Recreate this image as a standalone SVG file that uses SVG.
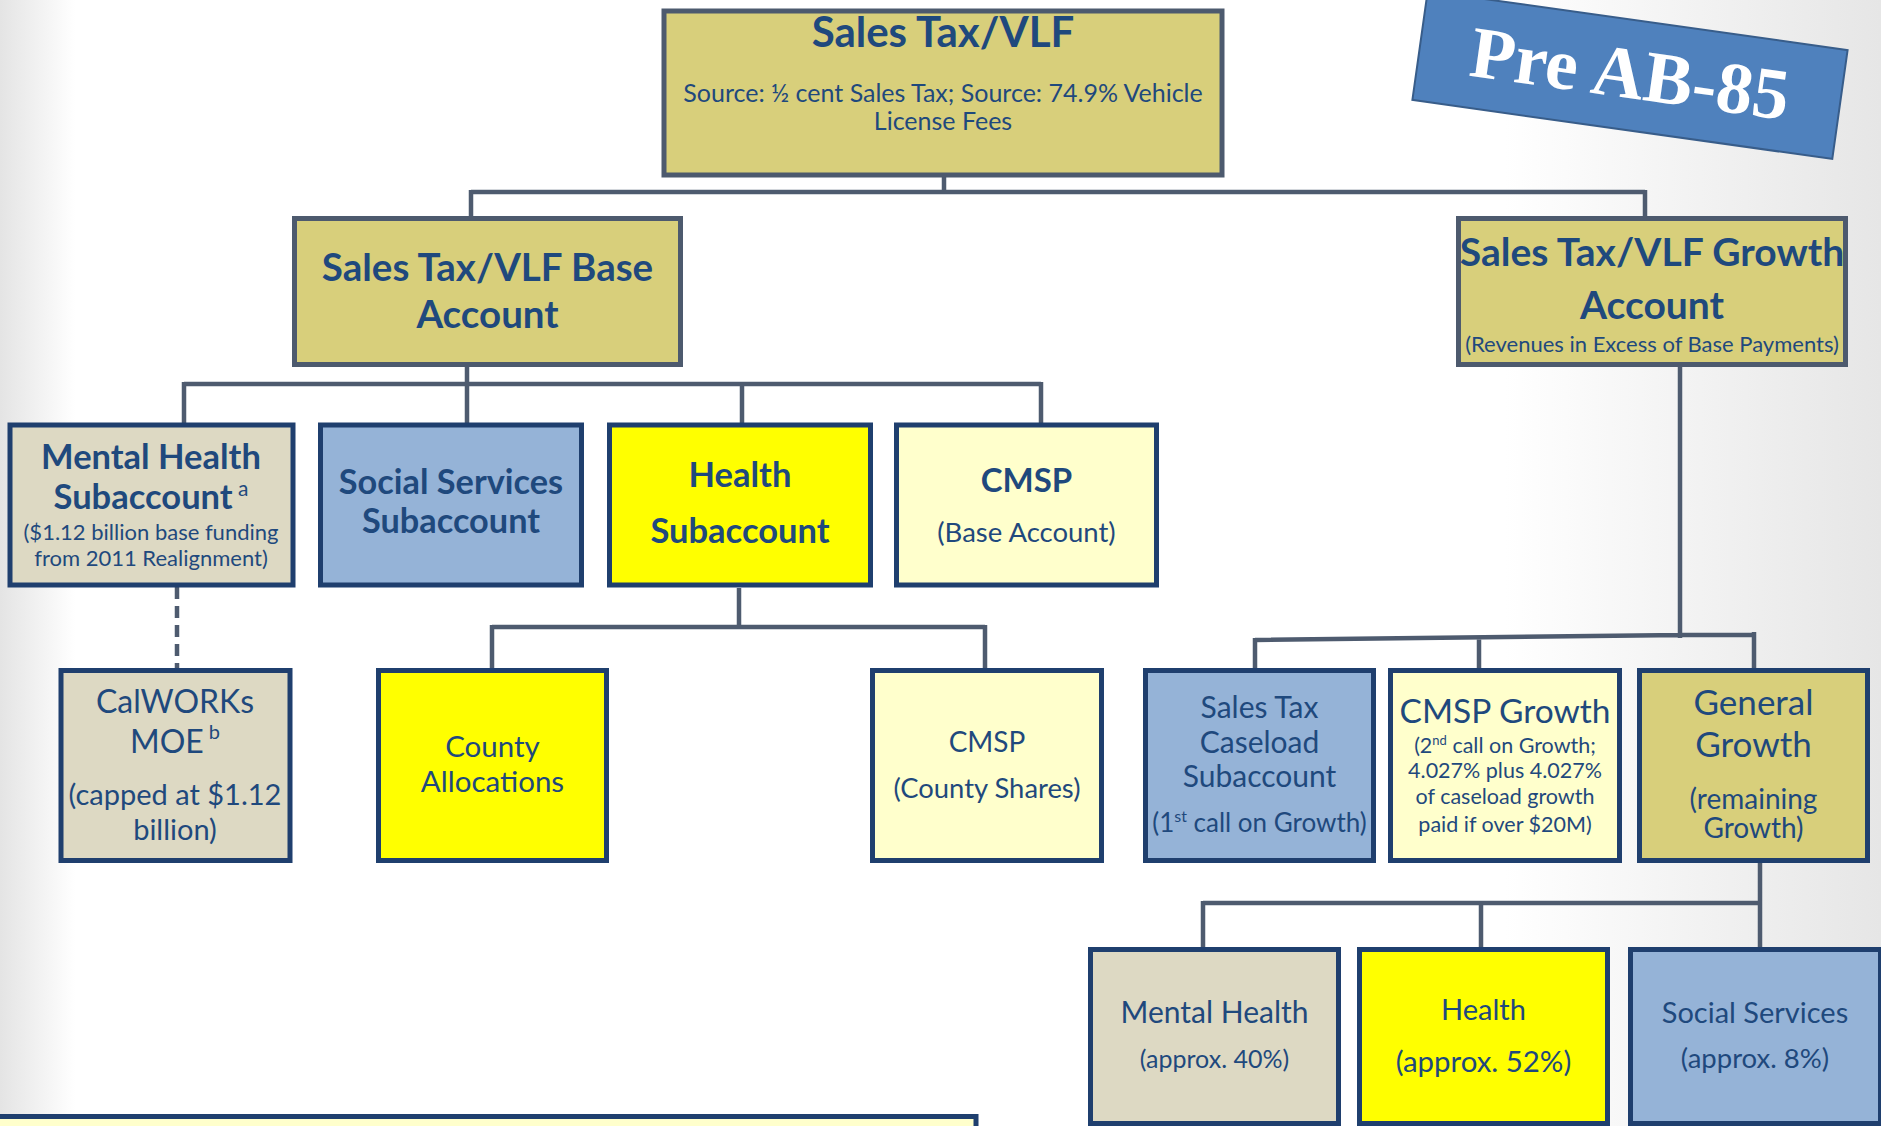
<svg xmlns="http://www.w3.org/2000/svg" width="1881" height="1126" viewBox="0 0 1881 1126">
<defs>
<linearGradient id="bg" x1="0" y1="0" x2="1" y2="0">
<stop offset="0" stop-color="#e4e4e4"/>
<stop offset="0.04" stop-color="#ffffff"/>
<stop offset="0.8" stop-color="#ffffff"/>
<stop offset="1" stop-color="#e6e6e6"/>
</linearGradient>
<style>
.t{font-family:Lato,"Liberation Sans",sans-serif;fill:#1f497d;text-anchor:middle}
.b{font-weight:bold}
.top{stroke:#4d5a6e;stroke-width:5}
.nd{stroke:#1f3f6e;stroke-width:5}
.khaki{fill:#d8cf7b}
.tan{fill:#ddd9c3}
.blue{fill:#95b3d7}
.yel{fill:#ffff00}
.lt{fill:#ffffcc}
.con{fill:none;stroke:#4e5b6f;stroke-width:4.5}
</style>
</defs>
<rect width="1881" height="1126" fill="url(#bg)"/>

<g id="connectors" class="con">
<path d="M944 177V192M471 192H1645M471 190V218M1645 190V218"/>
<path d="M467 367V384M184 384H1041M184 382V425M467 382V425M742 382V425M1041 382V425"/>
<path d="M739 588V627M492 627H985M492 625V670M985 625V670"/>
<path d="M177 587V668" stroke-dasharray="12 7"/>
<path d="M1680 367V638M1255 640L1682 635M1255 638V670M1479 637V670M1680 635H1754M1754 632V670"/>
<path d="M1760 863V903M1203 903H1762M1203 901V949M1481 901V949M1760 901V949"/>
</g>

<g id="banner" transform="translate(1630 75) rotate(8)">
<rect x="-212" y="-55" width="424" height="110" fill="#4f81bd" stroke="#385d8a" stroke-width="2"/>
<text x="0" y="23" font-family="'Liberation Serif',serif" font-weight="bold" font-size="73" fill="#ffffff" text-anchor="middle">Pre AB-85</text>
</g>

<g id="n-salestax">
<rect x="664" y="11" width="558" height="164" class="khaki top"/>
<text class="t b" x="943" y="47" font-size="42">Sales Tax/VLF</text>
<text class="t" x="943" y="102" font-size="25">Source: ½ cent Sales Tax; Source: 74.9% Vehicle</text>
<text class="t" x="943" y="130" font-size="25">License Fees</text>
</g>

<g id="n-base">
<rect x="294.5" y="218.5" width="386" height="146" class="khaki top"/>
<text class="t b" x="487.5" y="281" font-size="38.5">Sales Tax/VLF Base</text>
<text class="t b" x="487.5" y="328" font-size="38.5">Account</text>
</g>

<g id="n-growth">
<rect x="1458.5" y="218.5" width="387" height="146" class="khaki top"/>
<text class="t b" x="1652" y="266" font-size="39">Sales Tax/VLF Growth</text>
<text class="t b" x="1652" y="319" font-size="39">Account</text>
<text class="t" x="1652" y="352" font-size="22">(Revenues in Excess of Base Payments)</text>
</g>

<g id="n-mh">
<rect x="10" y="425" width="283" height="160" class="tan nd"/>
<text class="t b" x="151" y="469" font-size="34.5">Mental Health</text>
<text class="t b" x="151" y="509" font-size="34.5">Subaccount<tspan font-weight="normal" font-size="21" dy="-13"> a</tspan></text>
<text class="t" x="151" y="540" font-size="22">($1.12 billion base funding</text>
<text class="t" x="151" y="566" font-size="22">from 2011 Realignment)</text>
</g>

<g id="n-ss">
<rect x="320.5" y="425" width="261" height="160" class="blue nd"/>
<text class="t b" x="451" y="494" font-size="34.3">Social Services</text>
<text class="t b" x="451" y="533" font-size="34.3">Subaccount</text>
</g>

<g id="n-health">
<rect x="609.5" y="425" width="261" height="160" class="yel nd"/>
<text class="t b" x="740" y="487" font-size="34.5">Health</text>
<text class="t b" x="740" y="543" font-size="34.5">Subaccount</text>
</g>

<g id="n-cmsp">
<rect x="896.5" y="425" width="260" height="160" class="lt nd"/>
<text class="t b" x="1026.5" y="492" font-size="33">CMSP</text>
<text class="t" x="1026.5" y="542" font-size="27.5">(Base Account)</text>
</g>

<g id="n-calworks">
<rect x="61" y="670.5" width="229" height="190" class="tan nd"/>
<text class="t" x="175" y="713" font-size="32">CalWORKs</text>
<text class="t" x="175" y="753" font-size="32">MOE<tspan font-size="20" dy="-14"> b</tspan></text>
<text class="t" x="175" y="805" font-size="29">(capped at $1.12</text>
<text class="t" x="175" y="840" font-size="29">billion)</text>
</g>

<g id="n-county">
<rect x="378.5" y="670.5" width="228" height="190" class="yel nd"/>
<text class="t" x="492.5" y="757" font-size="29.5">County</text>
<text class="t" x="492.5" y="792" font-size="29.5">Allocations</text>
</g>

<g id="n-cmsp-county">
<rect x="872.5" y="670.5" width="229" height="190" class="lt nd"/>
<text class="t" x="987" y="752" font-size="28">CMSP</text>
<text class="t" x="987" y="798" font-size="27.4">(County Shares)</text>
</g>

<g id="n-caseload">
<rect x="1145.5" y="670.5" width="228" height="190" class="blue nd"/>
<text class="t" x="1259.5" y="718" font-size="30">Sales Tax</text>
<text class="t" x="1259.5" y="753" font-size="30">Caseload</text>
<text class="t" x="1259.5" y="787" font-size="30">Subaccount</text>
<text class="t" x="1259.5" y="832" font-size="26">(1<tspan font-size="16" dy="-10">st</tspan><tspan dy="10"> call on Growth)</tspan></text>
</g>

<g id="n-cmsp-growth">
<rect x="1390.5" y="670.5" width="229" height="190" class="lt nd"/>
<text class="t" x="1505" y="723" font-size="33.5">CMSP Growth</text>
<text class="t" x="1505" y="753" font-size="21.5">(2<tspan font-size="13" dy="-8">nd</tspan><tspan dy="8"> call on Growth;</tspan></text>
<text class="t" x="1505" y="778" font-size="21.5">4.027% plus 4.027%</text>
<text class="t" x="1505" y="804" font-size="21.5">of caseload growth</text>
<text class="t" x="1505" y="832" font-size="21.5">paid if over $20M)</text>
</g>

<g id="n-general">
<rect x="1639.5" y="670.5" width="228" height="190" class="khaki nd"/>
<text class="t" x="1753.5" y="715" font-size="35">General</text>
<text class="t" x="1753.5" y="757" font-size="35">Growth</text>
<text class="t" x="1753.5" y="809" font-size="28">(remaining</text>
<text class="t" x="1753.5" y="838" font-size="28">Growth)</text>
</g>

<g id="n-mh2">
<rect x="1090.5" y="949.5" width="248" height="174" class="tan nd"/>
<text class="t" x="1214.5" y="1023" font-size="30">Mental Health</text>
<text class="t" x="1214.5" y="1068" font-size="25">(approx. 40%)</text>
</g>

<g id="n-health2">
<rect x="1359.5" y="949.5" width="248" height="174" class="yel nd"/>
<text class="t" x="1483.5" y="1020" font-size="29">Health</text>
<text class="t" x="1483.5" y="1072" font-size="29.4">(approx. 52%)</text>
</g>

<g id="n-ss2">
<rect x="1630.5" y="949.5" width="250" height="174" class="blue nd"/>
<text class="t" x="1755" y="1023" font-size="29">Social Services</text>
<text class="t" x="1755" y="1068" font-size="27.5">(approx. 8%)</text>
</g>

<g id="n-footnote">
<rect x="-5" y="1116.5" width="981" height="20" class="lt nd"/>
</g>
</svg>
